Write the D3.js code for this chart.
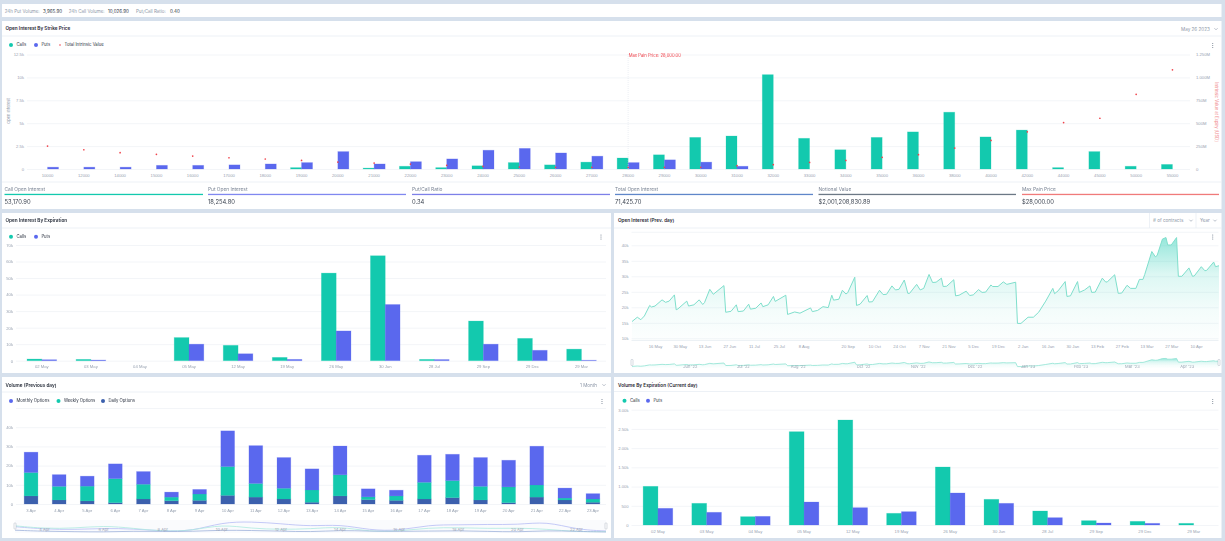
<!DOCTYPE html>
<html><head><meta charset="utf-8">
<script src="https://cdnjs.cloudflare.com/ajax/libs/d3/7.8.5/d3.min.js"></script>
<style>
html,body{margin:0;padding:0;background:#d6e0ec;overflow:hidden}
svg{display:block;font-family:Inter,Roboto,sans-serif;filter:blur(.25px)}
text{font-size:4.6px;fill:#8d97a8}
.dark{fill:#2b3240}
.title{font-size:4.7px;font-weight:600;fill:#1f2633}
.tick text{font-size:4.2px;fill:#98a2b1}
.grid line{stroke:#f3f5f8;stroke-width:1}
.domain{display:none}
</style></head><body><div id="c"></div>
<script>
const CALLS="#13c9ae",PUTS="#5a68ee",DAILY="#3c60ad",RED="#f0434b";

// --- top summary
const summaryItems=[["24h Put Volume:","3,965.90"],["24h Call Volume:","10,026.90"],["Put/Call Ratio:","0.40"]];

// --- open interest by strike
const strikes=["10000","12000","14000","15000","16000","17000","18000","19000","20000","21000","22000","23000","24000","25000","26000","27000","28000","29000","30000","31000","32000","33000","34000","35000","36000","38000","40000","42000","44000","45000","50000","55000"];
const strikeCalls=[0,0,0,0,0,0,0,150,0,100,300,150,350,700,450,750,1200,1550,3450,3600,10300,3350,2100,3450,4050,6200,3500,4250,150,1900,300,500];
const strikePuts=[200,200,200,400,400,450,550,700,1900,550,800,1100,2050,2250,1750,1400,700,1000,750,300,0,0,0,0,0,0,0,0,0,0,0,0];
const intrinsicValue=[250,210,178,160,141,123,109,94,76,65,54,40,29,22,18,18,18,18,18,36,47,72,94,127,156,228,312,406,507,554,815,1083];
const strikeYTicks=[0,2500,5000,7500,10000,12500];
const strikeYLabels=["0","2.5k","5k","7.5k","10k","12.5k"];
const intrinsicTicks=[0,250,500,750,1000,1250];
const intrinsicLabels=["0","250M","500M","750M","1.000M","1.250M"];
const maxPainStrike="28000";
const statItems=[["Call Open Interest","53,170.90",CALLS],["Put Open Interest","18,254.80","#8088f0"],["Put/Call Ratio","0.34","#7d80e8"],["Total Open Interest","71,425.70","#5f86c9"],["Notional Value","$2,001,208,830.89","#6c7885"],["Max Pain Price","$28,000.00","#f07a7a"]];

// --- open interest by expiration
const expiries=["02 May","03 May","04 May","05 May","12 May","19 May","26 May","30 Jun","28 Jul","29 Sep","29 Dec","29 Mar"];
const expCalls=[1000,800,0,14000,9300,2000,53000,63500,800,24000,13500,7000];
const expPuts=[600,400,0,10000,4200,800,18000,34000,700,10000,6300,300];
const expYTicks=[0,10000,20000,30000,40000,50000,60000,70000];
const expYLabels=["0","10k","20k","30k","40k","50k","60k","70k"];

// --- open interest previous day (day index on the category axis, value in thousands)
const oiDay=[0,3,5,7,10,11,13,17,19,21,24,25,26,31,32,35,38,40,41,44,46,52,53,56,59,60,63,66,67,70,73,74,77,80,81,87,88,92,95,101,102,105,108,111,113,114,117,119,121,122,126,127,129,133,134,136,140,142,144,147,149,151,154,156,157,161,163,165,168,170,172,175,176,178,182,183,185,189,191,193,196,198,200,203,204,207,210,212,217,218,220,224,227,230,234,238,239,241,245,246,248,252,253,256,259,260,262,266,268,269,273,275,277,280,282,285,287,289,290,294,296,297,300,302,303,305,308,309,311,315,317,318,322,324,325,329,330,332];
const oiValue=[15.4,16.8,16.0,17.2,20.6,20.1,20.4,22.4,21.6,22.0,24.0,19.2,19.5,22.0,20.4,20.8,22.4,20.9,21.5,25.8,24.2,27.0,18.4,18.7,20.8,18.6,18.8,21.0,19.4,19.7,21.4,20.2,20.8,23.5,21.9,23.9,17.7,18.5,18.1,19.8,18.6,19.0,20.2,19.9,23.9,22.3,22.6,25.5,24.3,24.7,29.7,20.6,21.0,23.8,21.7,21.8,25.5,24.1,24.2,26.9,25.6,25.8,28.8,24.5,24.5,27.4,25.6,26.1,30.6,28.0,28.1,29.4,26.7,26.8,28.9,23.7,23.9,25.2,23.8,24.0,25.7,24.8,24.9,27.2,26.7,26.7,28.2,27.4,28.1,14.8,14.8,16.8,16.8,18.4,22.0,26.1,24.4,25.3,28.3,23.5,23.7,28.3,24.8,25.6,26.9,24.8,24.9,29.4,28.1,28.3,30.5,24.5,24.6,27.1,26.1,26.1,29.0,29.0,30.6,38.0,36.3,36.7,42.0,42.5,40.1,40.1,42.5,30.0,30.0,32.7,30.0,30.1,33.1,31.8,31.9,34.6,33.1,33.4];
const oiTickDays=[13,27,41,55,69,83,97,122,137,151,165,179,193,207,221,235,249,263,277,291,305,319];
const oiTickLabels=["16 May","30 May","13 Jun","27 Jun","11 Jul","25 Jul","8 Aug","20 Sep","10 Oct","24 Oct","7 Nov","21 Nov","5 Dec","19 Dec","2 Jan","16 Jan","30 Jan","13 Feb","27 Feb","13 Mar","27 Mar","10 Apr"];
const oiYTicks=[10,15,20,25,30,35,40];
const oiYLabels=["10k","15k","20k","25k","30k","35k","40k"];
const oiBrushDays=[33,63,94,131,162,194,224,254,283,314];
const oiBrushLabels=["Jun '22","Jul '22","Aug '22","Oct '22","Nov '22","Dec '22","Jan '23","Feb '23","Mar '23","Apr '23"];

// --- volume previous day
const volDays=["3 Apr","4 Apr","5 Apr","6 Apr","7 Apr","8 Apr","9 Apr","10 Apr","11 Apr","12 Apr","13 Apr","14 Apr","15 Apr","16 Apr","17 Apr","18 Apr","19 Apr","20 Apr","21 Apr","22 Apr","23 Apr"];
const volDaily=[4.2,2.1,1.6,0.7,2.6,1.7,1.9,4.5,3.6,2.6,0.9,4.2,2.3,1.9,2.6,3.3,2.1,0.7,3.6,2.1,0.9];
const volWeekly=[12.2,7.1,7.7,12.5,7.7,1.9,3.3,15,7.1,5.6,6.4,11,1.4,2.3,8.7,8.9,7.1,8.2,6.3,1,1.7];
const volMonthly=[10.6,6.1,5.2,7.7,6.6,2.6,2.4,18.6,19.7,16,11,15,4.2,3,14.1,13.7,15,13.9,20.2,5.2,2.8];
const volYTicks=[0,10,20,30,40,50];
const volYLabels=["0","10k","20k","30k","40k",""];
const volBrushLabels=["4 Apr","6 Apr","8 Apr","10 Apr","12 Apr","14 Apr","16 Apr","18 Apr","20 Apr","22 Apr"];

// --- volume by expiration
const curCalls=[1006,564,217,2428,2732,304,1509,668,364,113,95,43];
const curPuts=[434,330,225,598,451,347,833,564,191,52,43,0];
const curYTicks=[0,500,1000,1500,2000,2500,3000];
const curYLabels=["0","500","1.00k","1.50k","2.00k","2.50k","3.00k"];

const svg=d3.select("#c").append("svg").attr("width",1225).attr("height",541);
const defs=svg.append("defs");
const grad=defs.append("linearGradient").attr("id","oiFill").attr("x1",0).attr("x2",0).attr("y1",0).attr("y2",1);
[[0,.45],[.35,.15],[.7,.05],[1,.01]].forEach(([o,a])=>grad.append("stop").attr("offset",o).attr("stop-color",CALLS).attr("stop-opacity",a));

function card(x,y,w,h,fill){svg.append("rect").attr("x",x).attr("y",y).attr("width",w).attr("height",h).attr("fill",fill||"#fff");}
function hline(x1,x2,y,c){svg.append("line").attr("x1",x1).attr("x2",x2).attr("y1",y).attr("y2",y).attr("stroke",c||"#e8edf4").attr("stroke-width",.8);}
function label(x,y,t,cls,anchor,fill,size){const s=svg.append("text").attr("x",x).attr("y",y).attr("dy","0.35em").text(t);
 if(cls)s.attr("class",cls);if(anchor)s.attr("text-anchor",anchor);if(fill)s.style("fill",fill);if(size)s.style("font-size",size+"px");return s;}
function kebab(x,y){[-2,0,2].forEach(d=>svg.append("circle").attr("cx",x).attr("cy",y+d).attr("r",.6).attr("fill","#7c8796"));}
function chevron(x,y){svg.append("path").attr("d",`M${x-1.6},${y-.8}L${x},${y+.8}L${x+1.6},${y-.8}`).attr("fill","none").attr("stroke","#8d97a8").attr("stroke-width",.6);}
function legend(items,y){items.forEach(([x,t,c,r])=>{svg.append("circle").attr("cx",x).attr("cy",y).attr("r",r||2).attr("fill",c);
 label(x+(r?4.5:5.4),y,t,"dark",null,null,4.25);});}

function yAxis(scale,x,width,ticks,labels){
 const g=svg.append("g").attr("class","grid").attr("transform",`translate(${x},0)`)
  .call(d3.axisLeft(scale).tickValues(ticks).tickSize(-width).tickPadding(3).tickFormat((d,i)=>labels[i]));
 g.selectAll("text").attr("text-anchor","end");return g;}
function xAxis(scale,y,ticks,fmt){
 const ax=d3.axisBottom(scale).tickSize(0).tickPadding(3);
 if(ticks)ax.tickValues(ticks);if(fmt)ax.tickFormat(fmt);
 return svg.append("g").attr("transform",`translate(0,${y})`).call(ax);}

function groupedBars(cats,callVals,putVals,x,y,barW){
 const sub=d3.scaleBand().domain(["c","p"]).range([-barW,barW]);
 [[callVals,"c",CALLS],[putVals,"p",PUTS]].forEach(([vals,k,col])=>{
  svg.append("g").selectAll("rect").data(vals.map((v,i)=>[cats[i],v]).filter(d=>d[1]>0)).join("rect")
   .attr("x",d=>x(d[0])+x.bandwidth()/2+sub(k)).attr("width",sub.bandwidth())
   .attr("y",d=>y(d[1])).attr("height",d=>y(0)-y(d[1]))
   .attr("fill",col).attr("stroke",col).attr("stroke-opacity",.28).attr("stroke-width",.8);
 });}

// ---------- top bar
card(2,4,1219.5,13);
let tx=[[4.7,43],[68.7,108],[136,170]];
summaryItems.forEach(([a,b],i)=>{label(tx[i][0],11,a,null,null,null,4.5);label(tx[i][1],11,b,"dark",null,null,4.5);});

// ---------- strike chart
card(2,21,1219.5,188);
hline(2,1221.5,36);
label(5.5,28.5,"Open Interest By Strike Price","title");
label(1181,29,"May 26 2023");chevron(1216,29);
legend([[11,"Calls",CALLS],[36,"Puts",PUTS],[60,"Total Intrinsic Value",RED,.8]],45);
kebab(1212.7,45.5);
{
 const x=d3.scaleBand().domain(strikes).range([29.4,1190.6]);
 const y=d3.scaleLinear().domain([0,12500]).range([169,54.5]);
 const yR=d3.scaleLinear().domain([0,1250]).range([169,54.5]);
 yAxis(y,27,1163,strikeYTicks,strikeYLabels);
 svg.append("g").attr("transform","translate(1190,0)").call(d3.axisRight(yR).tickValues(intrinsicTicks).tickSize(0).tickPadding(6).tickFormat((d,i)=>intrinsicLabels[i]));
 xAxis(x,171,strikes);
 label(9,111,"Open Interest",null,"middle",null,4).attr("transform","rotate(-90 9 111)");
 label(1216,112,"Intrinsic Value at Expiry [USD]",null,"middle","#f0898c",4.2).attr("transform","rotate(90 1216 112)");
 groupedBars(strikes,strikeCalls,strikePuts,x,y,11);
 svg.append("g").selectAll("circle").data(intrinsicValue).join("circle")
  .attr("cx",(d,i)=>x(strikes[i])+x.bandwidth()/2).attr("cy",d=>yR(d)).attr("r",.85).attr("fill",RED);
 const px=x(maxPainStrike)+x.bandwidth()/2;
 svg.append("line").attr("x1",px).attr("x2",px).attr("y1",54).attr("y2",169).attr("stroke","#d9dee6").attr("stroke-width",.5).attr("stroke-dasharray","1,1");
 label(px+.5,55.7,"Max Pain Price: 28,000.00",null,null,RED,4.2);
}
hline(2,1221.5,182);
const statX=[[4.5,203],[208,406],[412,610],[615,813],[818.5,1016],[1022,1219]];
statItems.forEach(([t,v,c],i)=>{const [a,b]=statX[i];
 label(a,189,t,null,null,"#7a8494",4.8);
 svg.append("rect").attr("x",a).attr("y",193.8).attr("width",b-a).attr("height",1.3).attr("fill",c);
 label(a,201.8,v,null,null,"#3d4552",5.8);});

// ---------- expiration chart
card(2,213,609,160);
hline(2,611,228);
label(5.5,220.5,"Open Interest By Expiration","title");
legend([[11,"Calls",CALLS],[36,"Puts",PUTS]],236.7);
kebab(601,237);
{
 const x=d3.scaleBand().domain(expiries).range([17.3,606]);
 const y=d3.scaleLinear().domain([0,70000]).range([360.7,245]);
 yAxis(y,16,590,expYTicks,expYLabels);
 xAxis(x,362.5,expiries);
 groupedBars(expiries,expCalls,expPuts,x,y,14.8);
}

// ---------- OI (prev day)
card(614,213,607.5,160);
hline(614,1221.5,228);
label(618,220.5,"Open Interest (Prev. day)","title");
svg.append("line").attr("x1",1149.5).attr("x2",1149.5).attr("y1",213).attr("y2",228).attr("stroke","#e8edf4").attr("stroke-width",.8);
svg.append("line").attr("x1",1196).attr("x2",1196).attr("y1",213).attr("y2",228).attr("stroke","#e8edf4").attr("stroke-width",.8);
label(1153,220.5,"# of contracts");chevron(1191,220.5);
label(1200,220.5,"Year");chevron(1215,220.5);
kebab(1212.7,237);
{
 const pts=oiDay.map((d,i)=>[d,oiValue[i]]);
 const x=d3.scaleLinear().domain([0,332]).range([632,1219]);
 const y=d3.scaleLinear().domain([10,40]).range([338.3,245.3]);
 yAxis(y,631.5,587,oiYTicks,oiYLabels);
 svg.append("line").attr("x1",631.5).attr("x2",1218.5).attr("y1",y(44.2)).attr("y2",y(44.2)).attr("stroke","#f3f5f8");
 hline(631.5,1218.5,340.5,"#e9edf3");
 svg.append("path").datum(pts).attr("fill","url(#oiFill)")
  .attr("d",d3.area().x(d=>x(d[0])).y0(340.5).y1(d=>y(d[1])));
 svg.append("path").datum(pts).attr("fill","none").attr("stroke","#7fdfcc").attr("stroke-width",1)
  .attr("d",d3.line().x(d=>x(d[0])).y(d=>y(d[1])));
 xAxis(x,342.5,oiTickDays,(d,i)=>oiTickLabels[i]);
 // brush
 const by=d3.scaleLinear().domain([10,44]).range([368,358]);
 svg.append("path").datum(pts).attr("fill","url(#oiFill)").attr("d",d3.area().x(d=>x(d[0])).y0(368).y1(d=>by(d[1])));
 svg.append("path").datum(pts).attr("fill","none").attr("stroke","#8fe3d3").attr("stroke-width",.8).attr("d",d3.line().x(d=>x(d[0])).y(d=>by(d[1])));
 oiBrushDays.forEach((d,i)=>label(x(d),366.3,oiBrushLabels[i],null,"middle","#9aa3b2",4));
 [632,1219].forEach(h=>svg.append("rect").attr("x",h-1).attr("y",359.5).attr("width",2).attr("height",6).attr("rx",.6).attr("fill","#fff").attr("stroke","#9aa3b2").attr("stroke-width",.4));
}

// ---------- volume
card(2,377,609,161);
hline(2,611,392);
label(5.5,385,"Volume (Previous day)","title");
label(580,385,"1 Month");chevron(604,385);
legend([[11,"Monthly Options",PUTS],[58.5,"Weekly Options",CALLS],[103,"Daily Options",DAILY]],401);
kebab(602,401.5);
{
 const rows=volDays.map((d,i)=>({day:d,daily:volDaily[i],weekly:volWeekly[i],monthly:volMonthly[i]}));
 const stack=d3.stack().keys(["daily","weekly","monthly"])(rows);
 const colors={daily:DAILY,weekly:CALLS,monthly:PUTS};
 const x=d3.scaleBand().domain(volDays).range([17,607]).paddingInner(.51).paddingOuter(.255);
 const y=d3.scaleLinear().domain([0,50]).range([504,408]);
 yAxis(y,16,590,volYTicks,volYLabels);
 xAxis(x,506,volDays);
 stack.forEach(s=>svg.append("g").selectAll("rect").data(s).join("rect")
  .attr("x",d=>x(d.data.day)).attr("width",x.bandwidth())
  .attr("y",d=>y(d[1])).attr("height",d=>y(d[0])-y(d[1]))
  .attr("fill",colors[s.key]).attr("stroke",colors[s.key]).attr("stroke-opacity",.25).attr("stroke-width",.8));
 // brush
 const bx=d3.scalePoint().domain(volDays).range([15,606]);
 const by=d3.scaleLinear().domain([0,20]).range([532.5,521.5]);
 svg.append("rect").attr("x",15).attr("y",520).attr("width",591).attr("height",13).attr("fill","#fafbfd");
 [[volMonthly,"#b6bcf5"],[volWeekly,"#aeeadf"],[volDaily,"#9fb2da"]].forEach(([vals,c])=>{
  svg.append("path").datum(vals).attr("fill","none").attr("stroke",c).attr("stroke-width",.8)
   .attr("d",d3.line().curve(d3.curveBasis).x((d,i)=>bx(volDays[i])).y(d=>by(d)));
 });
 volBrushLabels.forEach(d=>label(bx(d),530,d,null,"middle","#9aa3b2",4));
 [15,606].forEach(h=>svg.append("rect").attr("x",h-1).attr("y",523).attr("width",2).attr("height",6).attr("rx",.6).attr("fill","#fff").attr("stroke","#9aa3b2").attr("stroke-width",.4));
}

// ---------- current day volume
card(614,377,607.5,161);
hline(614,1221.5,391.5);
label(618,385,"Volume By Expiration (Current day)","title");
legend([[624.5,"Calls",CALLS],[648,"Puts",PUTS]],400.7);
kebab(1212.7,401.5);
{
 const x=d3.scaleBand().domain(expiries).range([633.6,1218]);
 const y=d3.scaleLinear().domain([0,3000]).range([525,409.7]);
 yAxis(y,631.5,587,curYTicks,curYLabels);
 xAxis(x,527,expiries);
 groupedBars(expiries,curCalls,curPuts,x,y,14.8);
}
</script></body></html>
